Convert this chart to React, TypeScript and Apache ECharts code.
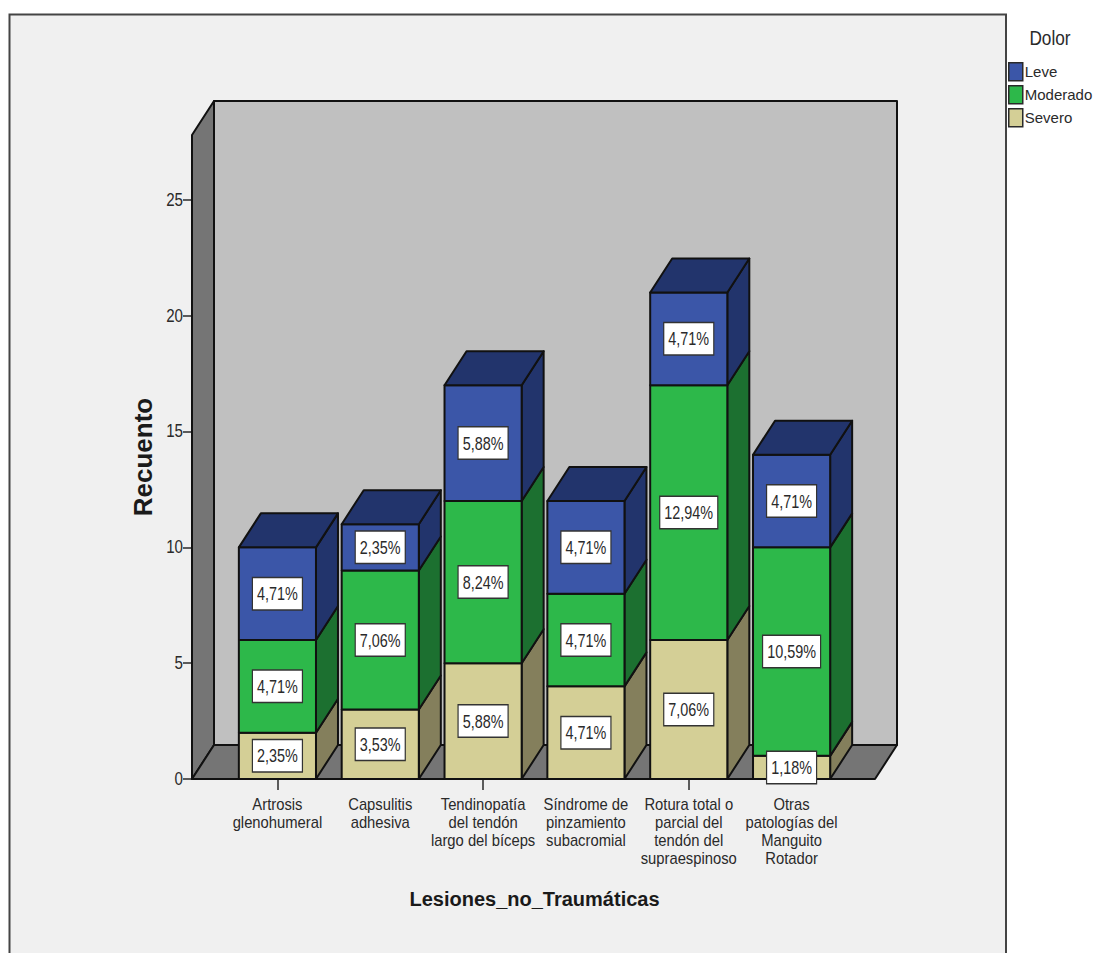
import React, { useEffect, useRef } from "react";
import * as echarts from "echarts";

const categories = [
  "Artrosis\nglenohumeral",
  "Capsulitis\nadhesiva",
  "Tendinopatía\ndel tendón\nlargo del bíceps",
  "Síndrome de\npinzamiento\nsubacromial",
  "Rotura total o\nparcial del\ntendón del\nsupraespinoso",
  "Otras\npatologías del\nManguito\nRotador",
];
const severo = [2, 3, 5, 4, 6, 1];
const moderado = [4, 6, 7, 4, 11, 9];
const leve = [4, 2, 5, 4, 4, 4];
const severoLabels = ["2,35%", "3,53%", "5,88%", "4,71%", "7,06%", "1,18%"];
const moderadoLabels = ["4,71%", "7,06%", "8,24%", "4,71%", "12,94%", "10,59%"];
const leveLabels = ["4,71%", "2,35%", "5,88%", "4,71%", "4,71%", "4,71%"];
const yTicks = [0, 5, 10, 15, 20, 25];

const SANS = "'Liberation Sans',Arial,sans-serif";
const INK = "#2a2a2a";
const EDGE = "#111111";
const DEPTH_X = 22;
const DEPTH_Y = 34;
const BAR_SHARE = 0.75;
const AXIS_SHIFT = 34;

type Pt = [number, number];
const poly = (points: Pt[], fill: string) => ({
  type: "polygon",
  shape: { points },
  style: { fill, stroke: EDGE, lineWidth: 2, lineJoin: "round" },
});

// One stacked layer of 3D boxes; only the uppermost layer needs a lid.
function boxSeries(name: string, front: string, side: string, base: number[], values: number[], lid: boolean) {
  return {
    type: "custom",
    name,
    silent: true,
    itemStyle: { color: front },
    encode: { x: 0, y: [1, 2] },
    data: values.map((v, i) => [i, base[i], base[i] + v]),
    renderItem: (_: unknown, api: any) => {
      const idx = api.value(0);
      const half = (api.size([1, 0])[0] * BAR_SHARE) / 2;
      const [cx, y0] = api.coord([idx, api.value(1)]);
      const [, y1] = api.coord([idx, api.value(2)]);
      const l = cx - half;
      const r = cx + half;
      const children: any[] = [
        poly([[r, y1], [r + DEPTH_X, y1 - DEPTH_Y], [r + DEPTH_X, y0 - DEPTH_Y], [r, y0]], side),
        poly([[l, y1], [r, y1], [r, y0], [l, y0]], front),
      ];
      if (lid) {
        children.push(poly([[l, y1], [l + DEPTH_X, y1 - DEPTH_Y], [r + DEPTH_X, y1 - DEPTH_Y], [r, y1]], side));
      }
      return { type: "group", children };
    },
  };
}

const cumulative = (...layers: number[][]) => categories.map((_, i) => layers.reduce((s, l) => s + l[i], 0));

export default function App() {
  const ref = useRef<HTMLDivElement>(null);

  useEffect(() => {
    const chart = echarts.init(ref.current!, undefined, { renderer: "svg" });
    const zeros = categories.map(() => 0);
    const baseModerado = cumulative(severo);
    const baseLeve = cumulative(severo, moderado);

    const tags = [
      ...severo.map((v, i) => ({ i, mid: v / 2, text: severoLabels[i] })),
      ...moderado.map((v, i) => ({ i, mid: baseModerado[i] + v / 2, text: moderadoLabels[i] })),
      ...leve.map((v, i) => ({ i, mid: baseLeve[i] + v / 2, text: leveLabels[i] })),
    ];

    chart.setOption({
      animation: false,
      backgroundColor: "#ffffff",
      textStyle: { fontFamily: SANS, color: INK },
      graphic: [
        {
          type: "rect",
          shape: { x: 9.5, y: 14.5, width: 996.5, height: 970 },
          style: { fill: "#f0f0f0", stroke: "#444444", lineWidth: 2 },
        },
        {
          type: "text",
          x: 1050,
          y: 38,
          scaleX: 0.82,
          style: { text: "Dolor", fontFamily: SANS, fontSize: 21, fill: INK, align: "center", verticalAlign: "middle" },
        },
      ],
      legend: {
        data: ["Leve", "Moderado", "Severo"],
        orient: "vertical",
        left: 1008,
        top: 62,
        itemWidth: 14,
        itemHeight: 18,
        itemGap: 3.5,
        padding: 0,
        selectedMode: false,
        icon: "rect",
        itemStyle: { borderColor: "#2a2a2a", borderWidth: 1.5 },
        textStyle: { fontFamily: SANS, fontSize: 15, lineHeight: 15, color: INK, padding: [3, 0, 0, -3] },
      },
      grid: { left: 226, right: 251, top: 135, bottom: 174 },
      xAxis: {
        type: "category",
        data: categories,
        name: "Lesiones_no_Traumáticas",
        nameLocation: "middle",
        nameGap: 110,
        nameTextStyle: { fontFamily: SANS, fontWeight: "bold", fontSize: 20, color: "#1a1a1a" },
        axisLine: { show: false },
        axisTick: { show: true, alignWithLabel: true, length: 11, lineStyle: { color: INK, width: 1.5 } },
        axisLabel: { show: false },
      },
      yAxis: {
        type: "value",
        min: 0,
        max: 27.8,
        interval: 5,
        offset: AXIS_SHIFT,
        name: "Recuento",
        nameLocation: "middle",
        nameGap: 36,
        nameTextStyle: { fontFamily: SANS, fontWeight: "bold", fontSize: 26, color: "#1a1a1a" },
        splitLine: { show: false },
        axisLine: { show: false },
        axisTick: { show: true, length: 9, customValues: yTicks, lineStyle: { color: INK, width: 1.5 } },
        axisLabel: { show: false },
      },
      series: [
        {
          // Side wall, back wall and floor of the chart box.
          type: "custom",
          silent: true,
          data: [[0, 0]],
          encode: { x: 0, y: 1 },
          renderItem: (params: any) => {
            const cs = params.coordSys;
            const l = cs.x - AXIS_SHIFT;
            const r = cs.x + cs.width + 32;
            const t = cs.y;
            const b = cs.y + cs.height;
            return {
              type: "group",
              children: [
                poly([[l + DEPTH_X, t - DEPTH_Y], [r + DEPTH_X, t - DEPTH_Y], [r + DEPTH_X, b - DEPTH_Y], [l + DEPTH_X, b - DEPTH_Y]], "#c0c0c0"),
                poly([[l, t], [l + DEPTH_X, t - DEPTH_Y], [l + DEPTH_X, b - DEPTH_Y], [l, b]], "#757575"),
                poly([[l, b], [l + DEPTH_X, b - DEPTH_Y], [r + DEPTH_X, b - DEPTH_Y], [r, b]], "#757575"),
              ],
            };
          },
        },
        boxSeries("Severo", "#d4cf96", "#847f5c", zeros, severo, false),
        boxSeries("Moderado", "#2db84a", "#1c7030", baseModerado, moderado, false),
        boxSeries("Leve", "#3b56a8", "#22346c", baseLeve, leve, true),
        {
          // Category names, set in a condensed width below each tick.
          type: "custom",
          silent: true,
          encode: { x: 0, y: 1 },
          data: categories.map((_, i) => [i, 0]),
          renderItem: (params: any, api: any) => {
            const [x, y] = api.coord([api.value(0), 0]);
            return {
              type: "text",
              x,
              y: y + 16,
              scaleX: 0.87,
              style: {
                text: categories[params.dataIndex],
                fontFamily: SANS,
                fontSize: 17,
                lineHeight: 18,
                fill: INK,
                align: "center",
                verticalAlign: "top",
              },
            };
          },
        },
        {
          // Count labels to the left of the shifted value axis.
          type: "custom",
          silent: true,
          encode: { x: 0, y: 1 },
          data: yTicks.map((t) => [0, t]),
          renderItem: (params: any, api: any) => {
            const [, y] = api.coord([0, api.value(1)]);
            return {
              type: "text",
              x: params.coordSys.x - AXIS_SHIFT - 9,
              y,
              scaleX: 0.84,
              style: {
                text: String(yTicks[params.dataIndex]),
                fontFamily: SANS,
                fontSize: 18,
                fill: INK,
                align: "right",
                verticalAlign: "middle",
              },
            };
          },
        },
        {
          // Percentage tags sit above every box.
          type: "custom",
          silent: true,
          encode: { x: 0, y: 1 },
          data: tags.map((t) => [t.i, t.mid]),
          renderItem: (params: any, api: any) => {
            const [x, y] = api.coord([api.value(0), api.value(1)]);
            return {
              type: "text",
              x,
              y,
              scaleX: 0.8,
              style: {
                text: tags[params.dataIndex].text,
                fontFamily: SANS,
                fontSize: 18,
                fill: INK,
                align: "center",
                verticalAlign: "middle",
                backgroundColor: "#ffffff",
                borderColor: "#333333",
                borderWidth: 1.5,
                padding: [7, 5, 6, 5],
              },
            };
          },
        },
      ],
    });
    return () => chart.dispose();
  }, []);

  return <div ref={ref} style={{ position: "absolute", left: 0, top: 0, width: 1094, height: 953, overflow: "hidden" }} />;
}
